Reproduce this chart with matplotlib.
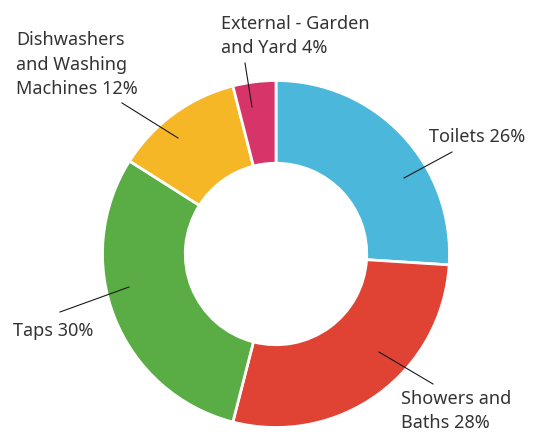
import matplotlib
matplotlib.use("Agg")
import matplotlib.pyplot as plt

# water use by category (percent)
labels = ["Toilets 26%", "Showers and\nBaths 28%", "Taps 30%",
          "Dishwashers\nand Washing\nMachines 12%", "External - Garden\nand Yard 4%"]
values = [26, 28, 30, 12, 4]
colors = ["#4bb7da", "#e04233", "#5aac44", "#f5b726", "#d7356a"]

# label layout in pixel coords: text anchor (left, last baseline), leader start, leader end
text_pos = [(429, 142), (401, 428), (13, 336), (16, 94), (221, 53)]
line_in = [(404, 178), (379, 352), (129, 287), (178, 138), (252, 107)]
line_out = [(452, 152), (433, 384), (60, 312), (122, 103), (245, 63)]

plt.rcParams['font.family'] = ['Noto Sans', 'DejaVu Sans']

fig = plt.figure(figsize=(5.33, 4.32), dpi=100)
ax = fig.add_axes([0, 0, 1, 1])

R = 173.5
ax.pie(values, colors=colors, startangle=-90, counterclock=True,
       radius=R, center=(276, 254),
       wedgeprops=dict(width=R * 0.477, edgecolor="white", linewidth=2))

for lab, tp, a, b in zip(labels, text_pos, line_in, line_out):
    ax.plot([a[0], b[0]], [a[1], b[1]], color="#1a1a1a", lw=0.8)
    ax.text(tp[0], tp[1], lab, ha="left", va="baseline", fontsize=13,
            color="#333333", linespacing=1.45)

ax.set_xlim(0, 533)
ax.set_ylim(432, 0)
ax.set_aspect("equal")
ax.axis("off")

fig.savefig("out.png", dpi=100)
